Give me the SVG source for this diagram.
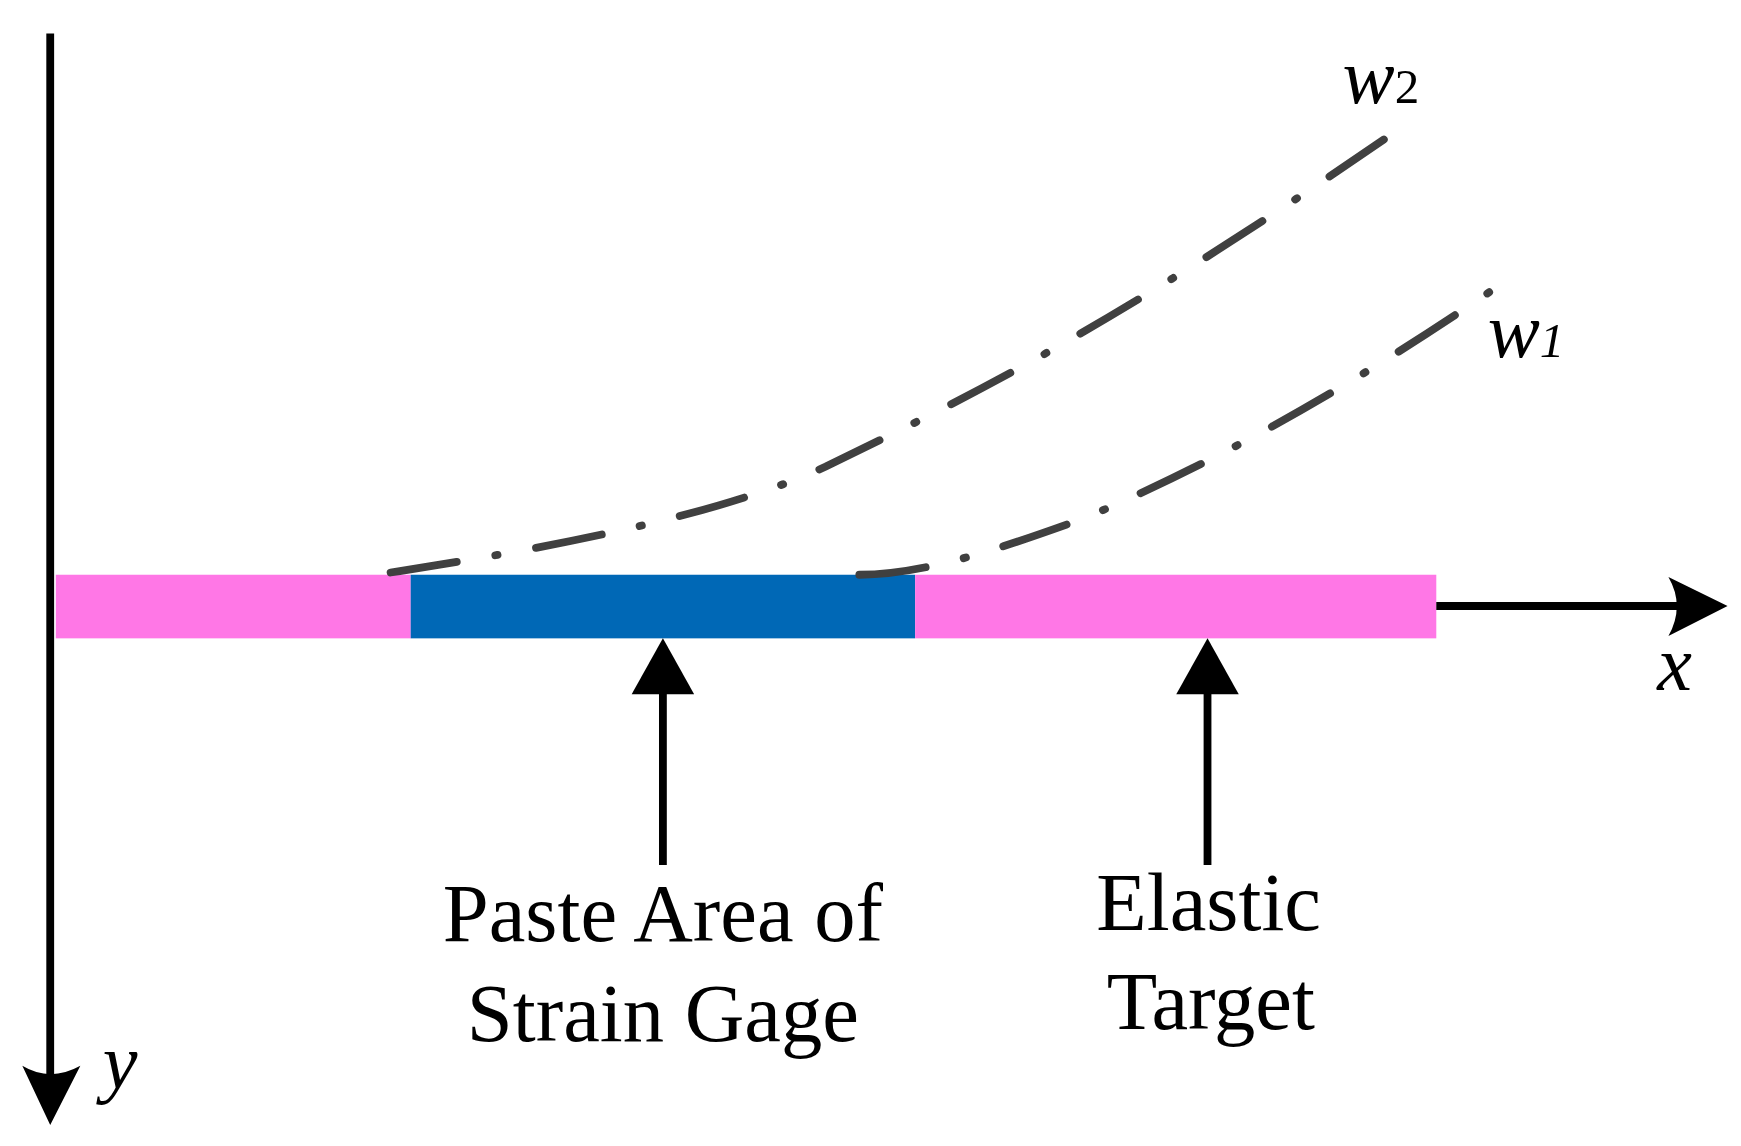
<svg xmlns="http://www.w3.org/2000/svg" width="1741" height="1146" viewBox="0 0 1741 1146">
<style>
.t{font-family:"Liberation Serif",serif;font-size:74px;fill:#000}
.i{font-family:"Liberation Serif",serif;font-style:italic;fill:#000}
.ax{stroke:#000;stroke-width:7;fill:none}
.dd{stroke:#404040;stroke-width:7;fill:none;stroke-linecap:round;stroke-dasharray:60 35 2 35}
</style>
<rect width="1741" height="1146" fill="#fff"/>
<g transform="scale(1.116)">
<g id="bar">
<rect x="50" y="515" width="318" height="57" fill="#ff77e6"/>
<rect x="368" y="515" width="452" height="57" fill="#0068b6"/>
<rect x="820" y="515" width="467" height="57" fill="#ff77e6"/>
</g>
<g id="connectors">
<line class="ax" x1="45" y1="30" x2="45" y2="965"/>
<path d="M20 955 L45 1008 L72 955 Q45 970 20 955Z" fill="#000"/>
<line class="ax" x1="1287" y1="543" x2="1505" y2="543"/>
<path d="M1495 517 L1548 543 L1495 570 Q1510 543 1495 517Z" fill="#000"/>
<line class="ax" x1="594" y1="775" x2="594" y2="615"/>
<path d="M566 622 L594 572 L622 622Z" fill="#000"/>
<line class="ax" x1="1082" y1="775" x2="1082" y2="615"/>
<path d="M1054 622 L1082 572 L1110 622Z" fill="#000"/>
<path class="dd" d="M350 513 C500 490 650 460 740 418 C880 350 1000 290 1240 125"/>
<path class="dd" d="M770 515 C830 515 900 490 970 465 C1100 410 1220 340 1340 258"/>
</g>
<g id="labels">
<text class="t" x="594" y="843" text-anchor="middle">Paste Area of</text>
<text class="t" x="594" y="933" text-anchor="middle">Strain Gage</text>
<text class="t" x="1083" y="833" text-anchor="middle">Elastic</text>
<text class="t" x="1085" y="922" text-anchor="middle">Target</text>
<text class="i" x="1485" y="618" font-size="70">x</text>
<text class="i" x="92" y="975" font-size="70">y</text>
<text class="i" x="1203" y="92" font-size="70">w<tspan font-size="44" font-style="normal">2</tspan></text>
<text class="i" x="1333" y="320" font-size="70">w<tspan font-size="44">1</tspan></text>
</g>
</g>
</svg>
